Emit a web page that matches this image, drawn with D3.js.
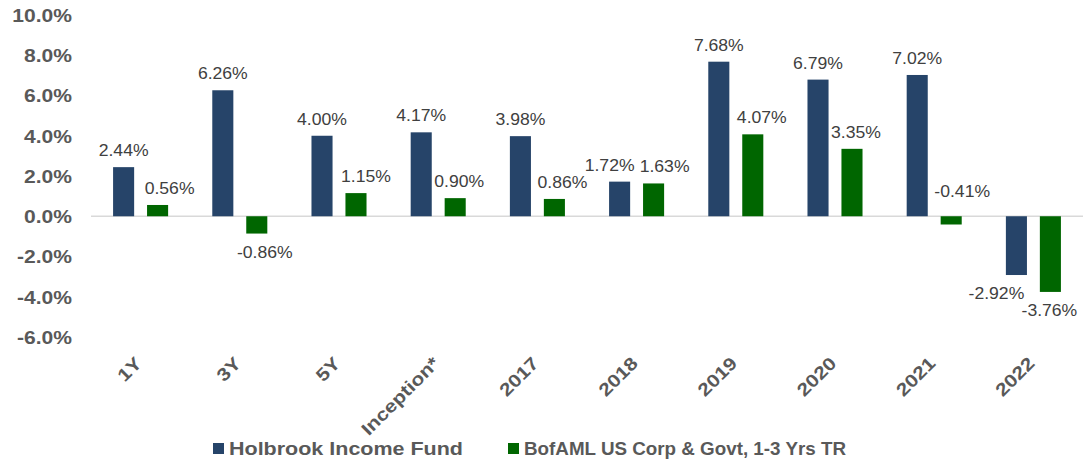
<!DOCTYPE html>
<html lang="en">
<head>
    <meta charset="UTF-8">
    <title>Returns</title>
    <script src="https://d3js.org/d3.v7.min.js"></script>
    <style>
        body { margin: 0; background: #fff; }
        text { font-family: 'Liberation Sans', Arial, sans-serif; }
        .tick text { font-weight: bold; fill: #595959; font-size: 18px; }
        .val { font-size: 16px; fill: #404040; }
        .legend text { font-weight: bold; fill: #595959; font-size: 18px; }
    </style>
</head>
<body>
<script>
    const width  = 1091;
    const height = 463;

    const categories = ["1Y", "3Y", "5Y", "Inception*", "2017", "2018", "2019", "2020", "2021", "2022"];
    const fund  = [2.44, 6.26, 4.00, 4.17, 3.98, 1.72, 7.68, 6.79, 7.02, -2.92];
    const index = [0.56, -0.86, 1.15, 0.90, 0.86, 1.63, 4.07, 3.35, -0.41, -3.76];
    const seriesNames = ["Holbrook Income Fund", "BofAML US Corp & Govt, 1-3 Yrs TR"];
    const yTicks = [-6, -4, -2, 0, 2, 4, 6, 8, 10];

    const colors = ["#264469", "#006600"];
    const stretch = 1.17;      // bold labels look wide in the original
    const valStretch = 1.1;
    // sideways nudges of value labels, as the original placed them
    const nudges = [
        [0, 0, 0, 0, 0, -10, 0, 0, 0, -20],
        [12, 8, 10, 4, 8, 11, 9, 4, 11, -1]
    ];

    const svg = d3.select("body").append("svg").attr("width", width).attr("height", height);

    const x = d3.scaleBand().domain(categories).range([91, 1083]);
    const inner = d3.scaleBand().domain([0, 1]).range([0, x.bandwidth()]).paddingInner(0.38).paddingOuter(0.65);
    const y = d3.scaleLinear().domain([-6, 10]).range([337, 15]);

    // y axis labels
    const yAxis = d3.axisLeft(y).tickValues(yTicks).tickSize(0).tickPadding(0)
        .tickFormat(d => d.toFixed(1) + "%");
    svg.append("g").attr("transform", "translate(72,0)").call(yAxis)
        .call(g => g.select(".domain").remove())
        .selectAll("text").attr("dy", "0.35em").attr("transform", `scale(${stretch},1)`);

    // zero line
    svg.append("line")
        .attr("x1", 91).attr("x2", 1083)
        .attr("y1", y(0)).attr("y2", y(0))
        .attr("stroke", "#d9d9d9").attr("stroke-width", 1.5);

    const rows = categories.map((c, i) => ({c, i, vals: [fund[i], index[i]]}));

    const groups = svg.selectAll("g.grp").data(rows).join("g")
        .attr("class", "grp")
        .attr("transform", d => `translate(${x(d.c)},0)`);

    groups.selectAll("rect").data(d => d.vals.map((v, s) => ({v, s, i: d.i}))).join("rect")
        .attr("x", d => inner(d.s))
        .attr("width", inner.bandwidth())
        .attr("y", d => Math.min(y(d.v), y(0)))
        .attr("height", d => Math.abs(y(d.v) - y(0)))
        .attr("fill", d => colors[d.s]);

    groups.selectAll("text.val").data(d => d.vals.map((v, s) => ({v, s, i: d.i}))).join("text")
        .attr("class", "val")
        .attr("text-anchor", "middle")
        .attr("transform", d => {
            const cx = inner(d.s) + inner.bandwidth() / 2 + nudges[d.s][d.i];
            let ty;
            if (d.v < 0 && d.v > -0.5) ty = y(0) - 19;   // small negative label sits above the axis
            else ty = d.v >= 0 ? y(d.v) - 11 : y(d.v) + 24;
            return `translate(${cx},${ty}) scale(${valStretch},1)`;
        })
        .text(d => d.v.toFixed(2) + "%");

    // x axis labels
    const xAxis = d3.axisBottom(x).tickSize(0).tickPadding(0);
    svg.append("g").attr("transform", "translate(-5,363)").call(xAxis)
        .call(g => g.select(".domain").remove())
        .selectAll("text")
        .attr("text-anchor", "end")
        .attr("dx", "0.2em").attr("dy", "0.35em")
        .attr("transform", `rotate(-45) scale(${stretch},1)`);

    // legend
    const legend = svg.append("g").attr("class", "legend");
    const legendX = [213, 508];
    const legendW = [234, 322];
    seriesNames.forEach((n, i) => {
        legend.append("rect").attr("x", legendX[i]).attr("y", 443).attr("width", 11).attr("height", 11)
            .attr("fill", colors[i]);
        legend.append("text")
            .attr("x", legendX[i] + 16).attr("y", 455)
            .attr("textLength", legendW[i]).attr("lengthAdjust", "spacingAndGlyphs")
            .text(n);
    });
</script>
</body>
</html>
